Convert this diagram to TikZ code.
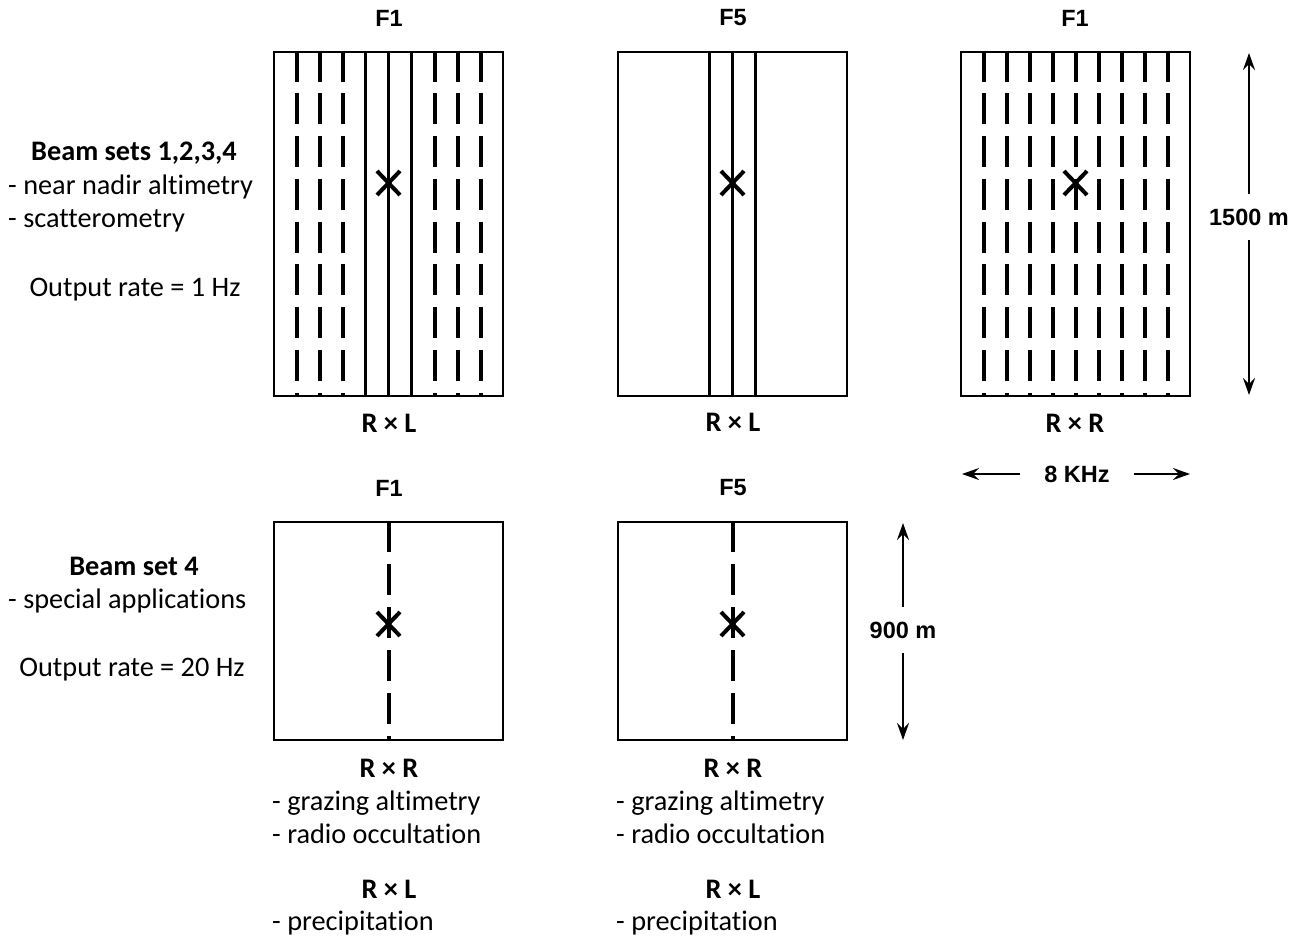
\documentclass[tikz,border=0pt]{standalone}
\usepackage{fontspec}
\setmainfont[Ligatures=CommonOff]{Carlito}
\newfontfamily\arialf{Liberation Sans}
\usetikzlibrary{arrows.meta,shapes.misc}
\begin{document}
\begin{tikzpicture}[x=1pt,y=-1pt,
  box/.style={draw,line width=2pt,inner sep=0pt,minimum width=229pt},
  tallbox/.style={box,minimum height=344pt},
  sqbox/.style={box,minimum height=218pt},
  solidbeam/.style={line width=3pt},
  dashbeam/.style={line width=4pt,dash pattern=on 31pt off 11.75pt},
  dashbeamb/.style={line width=4pt,dash pattern=on 31pt off 12pt},
  xmark/.style={cross out,draw,line width=4pt,minimum width=19pt,minimum height=20pt,inner sep=0pt},
  head/.style={font=\arialf\bfseries\fontsize{23.5}{28}\selectfont,inner sep=0pt},
  body/.style={font=\fontsize{28.3}{33}\selectfont,inner sep=0pt},
  bodyb/.style={inner sep=0pt,font=\fontsize{28.3}{33}\selectfont\bfseries},
  arr/.style={line width=2pt,-{Stealth[length=17pt,width=12pt,inset=6pt]}},
  vlab/.style={head,minimum height=45pt},
]
\useasboundingbox (0,0) rectangle (1301,937);

% boxes
\node[tallbox] (b1) at (388.5,223.5) {};
\node[tallbox] (b2) at (732.5,223.5) {};
\node[tallbox] (b3) at (1075.5,223.5) {};
\node[sqbox] (b4) at (388.5,631) {};
\node[sqbox] (b5) at (732.5,631) {};

% beams
\foreach \k in {-4,-3,-2,2,3,4}
  \draw[dashbeam] ([xshift=\k*23pt]b1.north) -- ([xshift=\k*23pt]b1.south);
\foreach \k in {-1,0,1}
  \draw[solidbeam] ([xshift=\k*23pt]b1.north) -- ([xshift=\k*23pt]b1.south);
\foreach \k in {-1,0,1}
  \draw[solidbeam] ([xshift=\k*23pt]b2.north) -- ([xshift=\k*23pt]b2.south);
\foreach \k in {-4,...,4}
  \draw[dashbeam] ([xshift=\k*23pt]b3.north) -- ([xshift=\k*23pt]b3.south);
\draw[dashbeamb] (b4.north) -- (b4.south);
\draw[dashbeamb] (b5.north) -- (b5.south);

% x marks
\node[xmark] (x1) at ([yshift=-132.5pt]b1.north) {};
\node[xmark] (x2) at ([yshift=-132.5pt]b2.north) {};
\node[xmark] (x3) at ([yshift=-132.5pt]b3.north) {};
\node[xmark] (x4) at ([yshift=-103pt]b4.north) {};
\node[xmark] (x5) at ([yshift=-103pt]b5.north) {};

% headers
\node[head] (h1) at (389,18) {F1};
\node[head] (h2) at (733,18) {F5};
\node[head] (h3) at (1075,18) {F1};
\node[head] (h4) at (389,488) {F1};
\node[head] (h5) at (733,488) {F5};

% polarisation labels under top boxes
\node[bodyb] (p1) at (389,423) {R × L};
\node[bodyb] (p2) at (733,422) {R × L};
\node[bodyb] (p3) at (1075,423) {R × R};

% dimension arrows
\node[vlab] (l1500) at (1249,217) {1500 m};
\coordinate (a1t) at (1249,53);
\coordinate (a1b) at (1249,395);
\draw[arr] (l1500) -- (a1t);
\draw[arr] (l1500) -- (a1b);

\node[head,inner xsep=24pt] (l8k) at (1077,474) {8 KHz};
\coordinate (a2l) at (962,474);
\coordinate (a2r) at (1190,474);
\draw[arr] (l8k) -- (a2l);
\draw[arr] (l8k) -- (a2r);

\node[vlab] (l900) at (903,630) {900 m};
\coordinate (a3t) at (903,523);
\coordinate (a3b) at (903,740);
\draw[arr] (l900) -- (a3t);
\draw[arr] (l900) -- (a3b);

% left text, top
\node[bodyb,anchor=base] (t1) at (134,160) {Beam sets 1,2,3,4};
\node[body,anchor=base west] (t2) at (8,194) {- near nadir altimetry};
\node[body,anchor=base west] (t3) at (8,227) {- scatterometry};
\node[body,anchor=base] (t4) at (135,296) {Output rate = 1 Hz};

% left text, bottom
\node[bodyb,anchor=base] (t5) at (134,575) {Beam set 4};
\node[body,anchor=base west] (t6) at (8,608) {- special applications};
\node[body,anchor=base] (t7) at (132,676) {Output rate = 20 Hz};

% under bottom boxes, column 1
\node[bodyb,anchor=base] (c1a) at (389,777) {R × R};
\node[body,anchor=base west] (c1b) at (272,810) {- grazing altimetry};
\node[body,anchor=base west] (c1c) at (272,843) {- radio occultation};
\node[bodyb,anchor=base] (c1d) at (389,898) {R × L};
\node[body,anchor=base west] (c1e) at (272,930) {- precipitation};

% column 2
\node[bodyb,anchor=base] (c2a) at (733,777) {R × R};
\node[body,anchor=base west] (c2b) at (616,810) {- grazing altimetry};
\node[body,anchor=base west] (c2c) at (616,843) {- radio occultation};
\node[bodyb,anchor=base] (c2d) at (733,898) {R × L};
\node[body,anchor=base west] (c2e) at (616,930) {- precipitation};
\end{tikzpicture}
\end{document}
